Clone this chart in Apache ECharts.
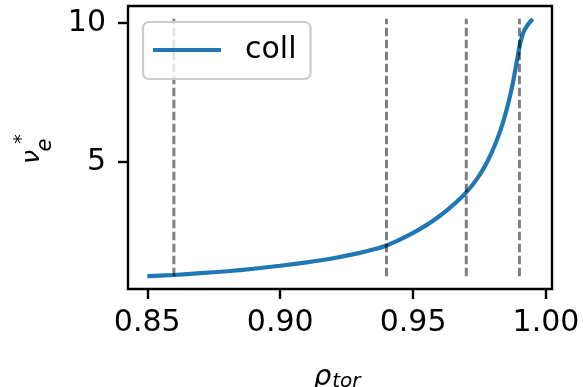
<!DOCTYPE html>
<html>
<head>
<meta charset="utf-8">
<script src="https://cdn.jsdelivr.net/npm/echarts@6/dist/echarts.min.js"></script>
<style>
  html, body { margin: 0; padding: 0; background: #fff; }
  #chart { width: 583px; height: 387px; }
</style>
</head>
<body>
<div id="chart"></div>
<script>
// Normalised toroidal radius and electron collisionality profile
const rhoTor = [0.850, 0.855, 0.860, 0.870, 0.880, 0.890, 0.900, 0.910, 0.920, 0.930,
                0.935, 0.940, 0.945, 0.950, 0.955, 0.960, 0.965, 0.970, 0.9743, 0.978,
                0.9812, 0.9837, 0.9858, 0.9875, 0.9891, 0.9903, 0.9916, 0.9931, 0.995];
const coll = [0.885, 0.905, 0.925, 0.99, 1.06, 1.15, 1.26, 1.38, 1.53, 1.72,
              1.84, 1.99, 2.20, 2.44, 2.72, 3.05, 3.44, 3.90, 4.42, 5.02,
              5.70, 6.38, 7.10, 7.82, 8.66, 9.26, 9.68, 9.92, 10.14];
// Radial positions marked with dashed verticals
const markRho = [0.86, 0.94, 0.97, 0.99];
// Tick values
const xTicks = [0.85, 0.90, 0.95, 1.00];
const yTicks = [5, 10];

const FONT = 'DejaVu Sans';

// 5% padding around the data range on both axes
function padded(arr) {
  const lo = Math.min(...arr), hi = Math.max(...arr), m = (hi - lo) * 0.05;
  return [lo - m, hi + m];
}
const [xMin, xMax] = padded(rhoTor);
const [yMin, yMax] = padded(coll);
const collMin = Math.min(...coll), collMax = Math.max(...coll);

const series = [{
  name: 'coll',
  type: 'line',
  data: rhoTor.map((r, i) => [r, coll[i]]),
  symbol: 'none',
  smooth: 0.2,
  lineStyle: { color: '#1f77b4', width: 4.2 },
  itemStyle: { color: '#1f77b4' },
  z: 2
}];
markRho.forEach(r => {
  series.push({
    type: 'line',
    data: [[r, collMin], [r, collMax]],
    symbol: 'none',
    silent: true,
    lineStyle: { color: 'rgba(0,0,0,0.5)', width: 3, type: [8.5, 3.5] },
    z: 3
  });
});

const chart = echarts.init(document.getElementById('chart'), null, { renderer: 'canvas' });
chart.setOption({
  animation: false,
  backgroundColor: '#ffffff',
  grid: {
    left: 128, right: 31, top: 6, bottom: 98,
    outerBoundsMode: 'none', containLabel: false,
    show: true, borderColor: '#000', borderWidth: 2.4, backgroundColor: 'transparent', z: 10
  },
  legend: {
    data: ['coll'],
    left: 143, top: 22,
    orient: 'vertical',
    icon: 'rect',
    itemWidth: 68, itemHeight: 4.2,
    padding: [13, 14, 14, 10],
    backgroundColor: 'rgba(255,255,255,0.8)',
    borderColor: '#cccccc', borderWidth: 2.2, borderRadius: 6,
    textStyle: { fontFamily: FONT, fontSize: 30, color: '#000', padding: [0, 0, 0, 19] },
    selectedMode: false,
    z: 20
  },
  xAxis: {
    type: 'value', min: xMin, max: xMax,
    axisLine: { show: false },
    splitLine: { show: false },
    axisTick: { show: true, customValues: xTicks, length: 10, lineStyle: { color: '#000', width: 2.4 } },
    axisLabel: {
      customValues: xTicks, margin: 19,
      formatter: v => v.toFixed(2),
      fontFamily: FONT, fontSize: 30, color: '#000'
    },
    name: '{r|ρ}{s|tor}',
    nameLocation: 'middle', nameGap: 75,
    nameTextStyle: {
      padding: [0, 6, 0, 0],
      rich: {
        r: { fontFamily: FONT, fontStyle: 'italic', fontSize: 28, color: '#000' },
        s: { fontFamily: FONT, fontStyle: 'italic', fontSize: 20, color: '#000', padding: [8, 0, 0, 1] }
      }
    }
  },
  yAxis: {
    type: 'value', min: yMin, max: yMax,
    axisLine: { show: false },
    splitLine: { show: false },
    axisTick: { show: true, customValues: yTicks, length: 10, lineStyle: { color: '#000', width: 2.4 } },
    axisLabel: {
      customValues: yTicks, margin: 22,
      fontFamily: FONT, fontSize: 30, color: '#000'
    }
  },
  graphic: [
    { type: 'text', x: 32, y: 157, rotation: Math.PI / 2,
      style: { text: 'ν', font: 'italic 25px "DejaVu Sans"', fill: '#000', textAlign: 'center', textVerticalAlign: 'middle' } },
    { type: 'text', x: 46, y: 145, rotation: Math.PI / 2,
      style: { text: 'e', font: 'italic 21px "DejaVu Sans"', fill: '#000', textAlign: 'center', textVerticalAlign: 'middle' } },
    { type: 'text', x: 22, y: 139, rotation: Math.PI / 2,
      style: { text: '*', font: '19px "DejaVu Sans"', fill: '#000', textAlign: 'center', textVerticalAlign: 'middle' } }
  ],
  series: series
});
</script>
</body>
</html>
